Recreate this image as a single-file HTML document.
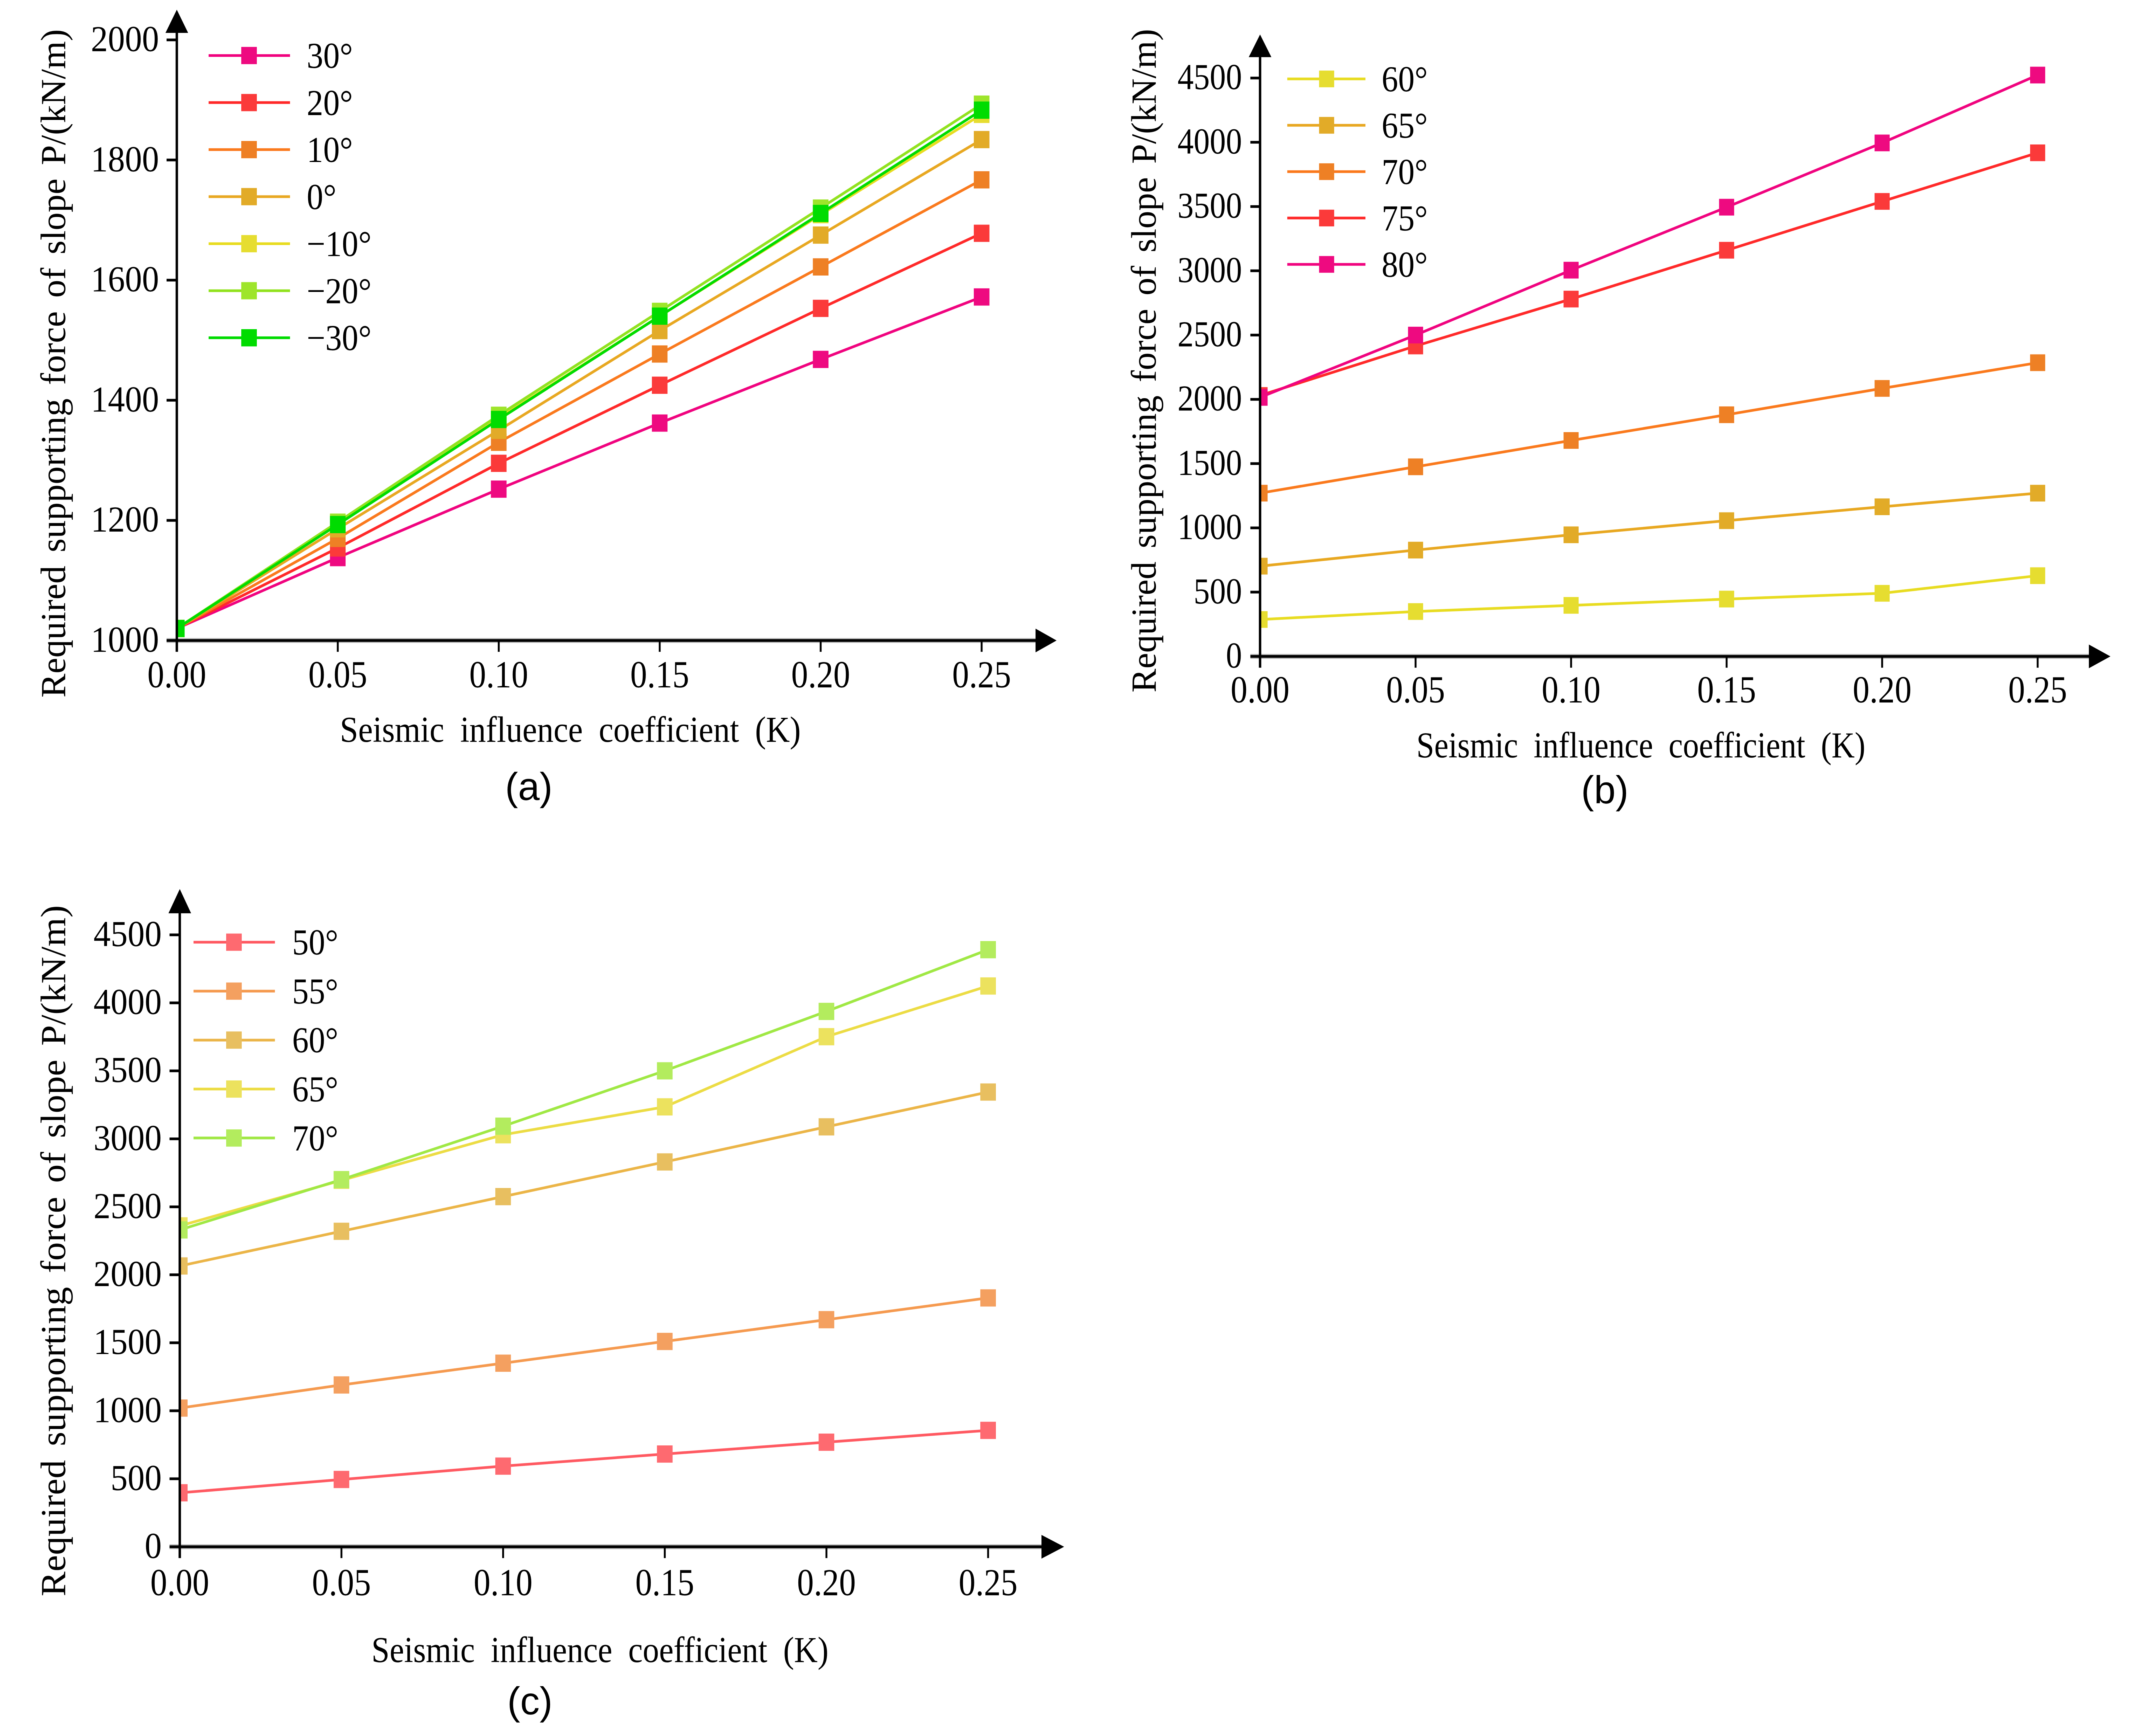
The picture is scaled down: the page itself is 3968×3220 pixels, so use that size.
<!DOCTYPE html>
<html lang="en">
<head>
<meta charset="utf-8">
<title>Required supporting force vs seismic influence coefficient</title>
<style>
html,body{margin:0;padding:0;background:#fff;}
svg{display:block;filter:blur(0.8px);}
text{font-family:"Liberation Serif",serif;fill:#000;}
.cap{font-family:"Liberation Sans",sans-serif;font-size:72px;text-anchor:middle;}
.xt{font-size:68px;word-spacing:16px;text-anchor:middle;}
.yt{font-size:66px;word-spacing:8px;text-anchor:middle;}
</style>
</head>
<body>
<svg id="figure" xmlns="http://www.w3.org/2000/svg" width="3968" height="3220" viewBox="0 0 3968 3220">
  <rect width="3968" height="3220" fill="#fff"/>
  <g id="panel-a">
    <text class="xt" x="1058" y="1376" textLength="855" lengthAdjust="spacingAndGlyphs">Seismic influence coefficient (K)</text>
    <text class="yt" transform="translate(121,674) rotate(-90)" textLength="1240" lengthAdjust="spacingAndGlyphs">Required supporting force of slope P/(kN/m)</text>
    <text class="cap" x="981" y="1484">(a)</text>
  </g>
  <g id="panel-b">
    <text class="xt" x="3044" y="1405" textLength="833" lengthAdjust="spacingAndGlyphs">Seismic influence coefficient (K)</text>
    <text class="yt" transform="translate(2144,669) rotate(-90)" textLength="1231" lengthAdjust="spacingAndGlyphs">Required supporting force of slope P/(kN/m)</text>
    <text class="cap" x="2977" y="1490">(b)</text>
  </g>
  <g id="panel-c">
    <text class="xt" x="1113" y="3083" textLength="848" lengthAdjust="spacingAndGlyphs">Seismic influence coefficient (K)</text>
    <text class="yt" transform="translate(121,2320) rotate(-90)" textLength="1282" lengthAdjust="spacingAndGlyphs">Required supporting force of slope P/(kN/m)</text>
    <text class="cap" x="983" y="3180">(c)</text>
  </g>
</svg>
<script>
// Shared x axis
const kCategories = [0, 0.05, 0.10, 0.15, 0.20, 0.25];
const kTickLabels = ['0.00', '0.05', '0.10', '0.15', '0.20', '0.25'];

// Panel (a)
const aYTicks = [1000, 1200, 1400, 1600, 1800, 2000];
const aNames = ['30°', '20°', '10°', '0°', '−10°', '−20°', '−30°'];
const aPos30 = [1020, 1138, 1252, 1362, 1468, 1572];
const aPos20 = [1020, 1154, 1295, 1425, 1553, 1678];
const aPos10 = [1020, 1170, 1330, 1477, 1622, 1767];
const aZero = [1020, 1186, 1350, 1516, 1675, 1834];
const aNeg10 = [1020, 1195, 1370, 1540, 1709, 1876];
const aNeg20 = [1020, 1197, 1375, 1548, 1720, 1893];
const aNeg30 = [1020, 1193, 1368, 1540, 1711, 1883];

// Panel (b)
const bYTicks = [0, 500, 1000, 1500, 2000, 2500, 3000, 3500, 4000, 4500];
const bNames = ['60°', '65°', '70°', '75°', '80°'];
const b60 = [287, 349, 397, 446, 491, 628];
const b65 = [702, 827, 946, 1056, 1164, 1270];
const b70 = [1270, 1475, 1680, 1880, 2085, 2285];
const b75 = [2030, 2415, 2780, 3160, 3540, 3918];
const b80 = [2015, 2500, 3005, 3495, 3995, 4523];

// Panel (c)
const cYTicks = [0, 500, 1000, 1500, 2000, 2500, 3000, 3500, 4000, 4500];
const cNames = ['50°', '55°', '60°', '65°', '70°'];
const c50 = [397, 495, 593, 682, 769, 856];
const c55 = [1020, 1190, 1350, 1510, 1670, 1830];
const c60 = [2065, 2320, 2575, 2830, 3088, 3344];
const c65 = [2360, 2695, 3030, 3235, 3751, 4124];
const c70 = [2330, 2700, 3093, 3500, 3937, 4391];

const NS = 'http://www.w3.org/2000/svg';

function make(tag, attrs, parent) {
  const node = document.createElementNS(NS, tag);
  for (const key in attrs) node.setAttribute(key, attrs[key]);
  parent.appendChild(node);
  return node;
}

function drawPanel(p) {
  const root = document.getElementById(p.id);
  const xScale = k => p.x0 + (k - 0) / 0.25 * (p.x25 - p.x0);
  const yScale = v => p.yBase - (v - p.vMin) * (p.yBase - p.yTop) / (p.vMax - p.vMin);

  const clipEl = make('clipPath', {id: p.id + '-clip'}, root);
  make('rect', {x: p.x0 - 1, y: 0, width: 3968, height: 3220}, clipEl);

  const plot = make('g', {'clip-path': 'url(#' + p.id + '-clip)'}, root);
  
  

  p.values.forEach((vals, s) => {
    const group = make('g', {}, plot);
    
    

    const pts = vals.map((v, i) => xScale(kCategories[i]).toFixed(1) + ',' + yScale(v).toFixed(1)).join(' ');
    const line = make('polyline', {points: pts, fill: 'none', stroke: p.lineColors[s], 'stroke-width': 5}, group);
    
    

    vals.forEach((v, i) => {
      const mark = make('rect', {
        x: xScale(kCategories[i]) - p.mw / 2,
        y: yScale(v) - p.mh / 2,
        width: p.mw, height: p.mh, fill: p.markColors[s]
      }, group);
      
      
    });
  });

  // x axis
  const xBand = make('line', {x1: p.x0 - p.tickL, x2: p.arrowX, y1: p.yBase, y2: p.yBase, stroke: '#b5b5b5', 'stroke-width': 9}, root);
  
  
  const xAxis = make('line', {x1: p.x0 - p.tickL, x2: p.arrowX, y1: p.yBase, y2: p.yBase, stroke: '#000', 'stroke-width': 5}, root);
  
  
  const xArrow = make('polygon', {points: p.arrowX + ',' + (p.yBase - 22) + ' ' + p.arrowTip + ',' + p.yBase + ' ' + p.arrowX + ',' + (p.yBase + 22), fill: '#000'}, root);
  
  

  kCategories.forEach((k, i) => {
    const tick = make('line', {x1: xScale(k), x2: xScale(k), y1: p.yBase, y2: p.yBase + 21, stroke: '#000', 'stroke-width': 3.5}, root);
    
    
    const label = make('text', {
      transform: 'translate(' + xScale(k) + ',' + p.xLabelY + ') scale(0.88,1)',
      'font-size': 71, 'text-anchor': 'middle'
    }, root);
    label.textContent = kTickLabels[i];
    
    
  });

  // y axis
  const yAxis = make('line', {x1: p.x0, x2: p.x0, y1: p.yBase + 21, y2: p.yArrowBase, stroke: '#000', 'stroke-width': 4.5}, root);
  
  
  const yArrow = make('polygon', {points: (p.x0 - 21) + ',' + p.yArrowBase + ' ' + p.x0 + ',' + p.yArrowTip + ' ' + (p.x0 + 21) + ',' + p.yArrowBase, fill: '#000'}, root);
  
  

  p.yTicks.forEach(v => {
    const tick = make('line', {x1: p.x0 - p.tickL, x2: p.x0, y1: yScale(v), y2: yScale(v), stroke: '#000', 'stroke-width': 5}, root);
    
    
    const label = make('text', {
      transform: 'translate(' + p.yLabelX + ',' + (yScale(v) + 21) + ') scale(' + p.yLabelSx + ',1)',
      'font-size': 68, 'text-anchor': 'end'
    }, root);
    label.textContent = String(v);
    
    
  });

  // legend
  const legend = make('g', {}, root);
  
  
  p.names.forEach((name, s) => {
    const ly = p.legTop + s * p.legStep;
    const entry = make('g', {}, legend);
    
    
    const swatch = make('line', {x1: p.legX1, x2: p.legX2, y1: ly, y2: ly, stroke: p.lineColors[s], 'stroke-width': 5}, entry);
    
    
    const mark = make('rect', {x: p.legMark - p.mw / 2, y: ly - p.mh / 2, width: p.mw, height: p.mh, fill: p.markColors[s]}, entry);
    
    
    const label = make('text', {
      transform: 'translate(' + p.legText + ',' + (ly + 23) + ') scale(0.9,1)',
      'font-size': 68
    }, entry);
    label.textContent = name;
    
    
  });
}

drawPanel({
  id: 'panel-a', names: aNames, yTicks: aYTicks,
  values: [aPos30, aPos20, aPos10, aZero, aNeg10, aNeg20, aNeg30],
  lineColors: ['#f0047f', '#ff2a2a', '#fa7a1e', '#e8a822', '#e8dc22', '#92e220', '#00dc00'],
  markColors: ['#ee0a80', '#fb3a3a', '#ee8025', '#e2ab28', '#e6dd30', '#9ee52b', '#00dc00'],
  x0: 328, x25: 1821, vMin: 1000, vMax: 2000, yBase: 1188, yTop: 74,
  tickL: 19, arrowX: 1921, arrowTip: 1960, yArrowTip: 18, yArrowBase: 61,
  yLabelX: 295, yLabelSx: 0.93, xLabelY: 1275, mw: 29, mh: 32,
  legTop: 103, legStep: 87.25, legX1: 387, legX2: 538, legMark: 462, legText: 569
});

drawPanel({
  id: 'panel-b', names: bNames, yTicks: bYTicks,
  values: [b60, b65, b70, b75, b80],
  lineColors: ['#e8dc22', '#e8a822', '#fa7a1e', '#ff2a2a', '#f0047f'],
  markColors: ['#e6dd30', '#e2ab28', '#ee8025', '#fb3a3a', '#ee0a80'],
  x0: 2337.5, x25: 3780, vMin: 0, vMax: 4500, yBase: 1217.5, yTop: 144.7,
  tickL: 18, arrowX: 3875, arrowTip: 3915, yArrowTip: 64, yArrowBase: 106,
  yLabelX: 2304, yLabelSx: 0.88, xLabelY: 1303, mw: 28, mh: 31,
  legTop: 146.4, legStep: 86, legX1: 2388, legX2: 2533, legMark: 2461, legText: 2563
});

drawPanel({
  id: 'panel-c', names: cNames, yTicks: cYTicks,
  values: [c50, c55, c60, c65, c70],
  lineColors: ['#ff5a62', '#f59a50', '#ebb548', '#ecdc45', '#a0e845'],
  markColors: ['#fe6a70', '#f4a060', '#e8bf60', '#ece25e', '#b3ec5e'],
  x0: 333.5, x25: 1833, vMin: 0, vMax: 4500, yBase: 2869, yTop: 1734,
  tickL: 19, arrowX: 1932, arrowTip: 1974, yArrowTip: 1649, yArrowBase: 1694,
  yLabelX: 300, yLabelSx: 0.93, xLabelY: 2959, mw: 29, mh: 32,
  legTop: 1747.6, legStep: 90.8, legX1: 359, legX2: 510, legMark: 434, legText: 542
});
</script>
</body>
</html>
